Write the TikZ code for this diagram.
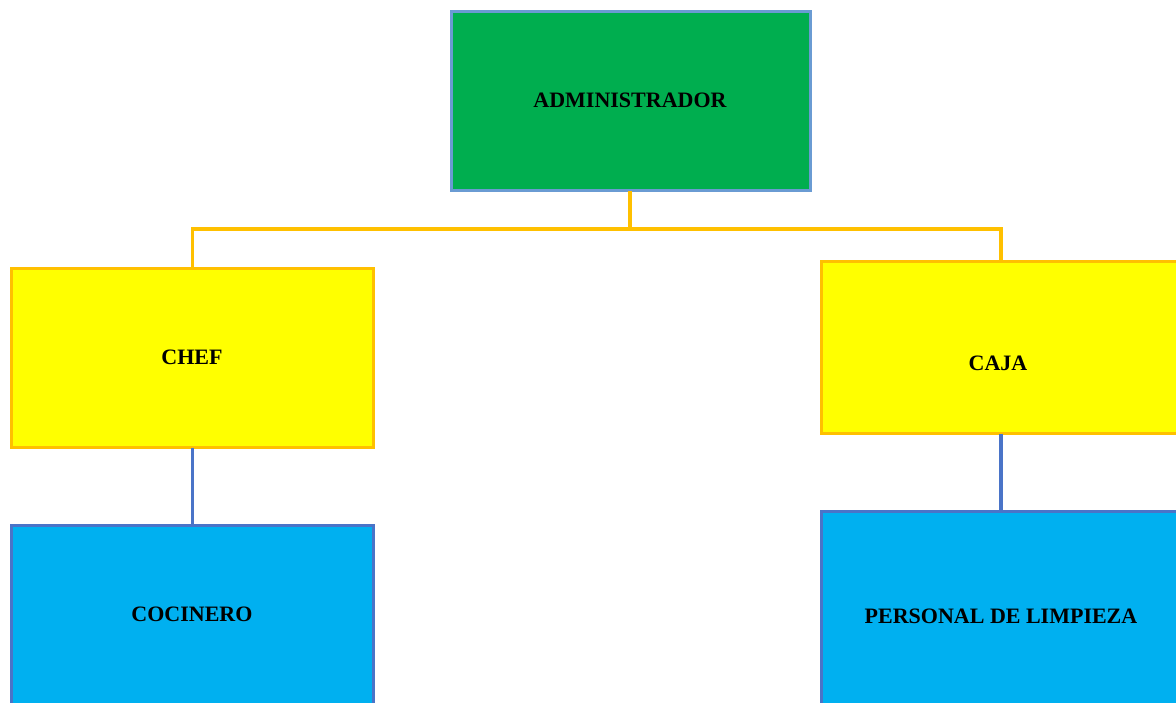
\documentclass[tikz,border=0pt]{standalone}
\usepackage{fontspec}
\setmainfont{Liberation Serif}
\definecolor{admgreen}{HTML}{00AE4F}
\definecolor{admborder}{HTML}{6A9BD3}
\definecolor{ylfill}{HTML}{FFFF00}
\definecolor{orline}{HTML}{FFC000}
\definecolor{bluefill}{HTML}{00B0F0}
\definecolor{blueline}{HTML}{4A74C8}
\begin{document}
\begin{tikzpicture}[x=1pt,y=-1pt,
  box/.style={draw, line width=3pt, inner sep=0pt, outer sep=0pt, anchor=north west},
  lbl/.style={font=\fontsize{22}{26}\selectfont\bfseries, inner sep=0pt},
  orconn/.style={draw=orline, line width=3.2pt},
  blconn/.style={draw=blueline, line width=3.2pt}]
\useasboundingbox (0,0) rectangle (1176,702);
% boxes
\node[box, draw=admborder, fill=admgreen, minimum width=359pt, minimum height=179pt] (admin) at (451.5,11.5) {};
\node[box, draw=orline, fill=ylfill, minimum width=362pt, minimum height=179pt] (chef) at (11.5,268.5) {};
\node[box, draw=orline, fill=ylfill, minimum width=362pt, minimum height=172pt] (caja) at (821.5,261.5) {};
\node[box, draw=blueline, fill=bluefill, minimum width=362pt, minimum height=182pt] (coc) at (11.5,525.5) {};
\node[box, draw=blueline, fill=bluefill, minimum width=362pt, minimum height=212pt] (pers) at (821.5,511.5) {};
% labels
\node[lbl] (tadmin) at (630,100) {ADMINISTRADOR};
\node[lbl] (tchef) at (192,357) {CHEF};
\node[lbl] (tcaja) at (998,363) {CAJA};
\node[lbl] (tcoc) at (192,614) {COCINERO};
\node[lbl] (tpers) at (1001,616) {PERSONAL DE LIMPIEZA};
% connectors
\coordinate (bus) at (630,229);
\coordinate (cx) at (1001,0);
\draw[orconn] (admin.south -| bus) -- (bus);
\draw[orconn] (bus) -| (chef.north);
\draw[orconn] (bus) -| (caja.north -| cx);
\draw[blconn] (chef.south) -- (coc.north -| chef.south);
\draw[blconn] (caja.south -| cx) -- (pers.north -| cx);
\end{tikzpicture}
\end{document}
